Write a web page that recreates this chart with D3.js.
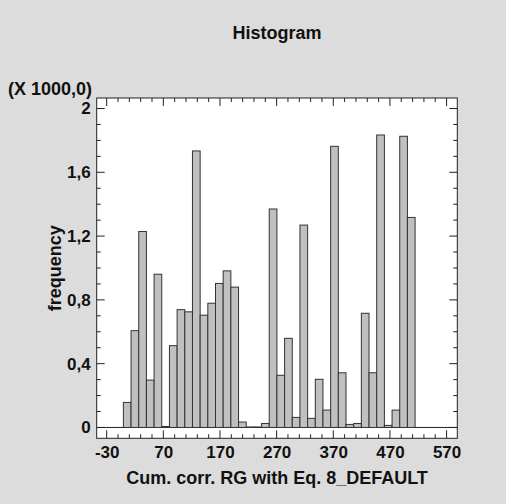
<!DOCTYPE html>
<html>
<head>
<meta charset="utf-8">
<script src="https://cdn.jsdelivr.net/npm/d3@7"></script>
<style>
  html, body { margin: 0; padding: 0; background: #dcdcdc; }
  svg { display: block; font-family: "Liberation Sans", Arial, sans-serif; font-weight: bold; }
</style>
</head>
<body>
<svg id="chart" width="506" height="504"></svg>
<script>
// Bin layout (class limits) and counts
const binStart = -0.5;
const binWidth = 13.55;
const counts = [157, 607, 1229, 297, 961, 6, 513, 739, 725, 1734,
                704, 779, 903, 982, 880, 34, 3, 3, 25, 1370,
                327, 559, 63, 1269, 57, 302, 109, 1763, 343, 19,
                25, 716, 343, 1834, 13, 109, 1826, 1317];
const xTicks = [-30, 70, 170, 270, 370, 470, 570];
const xTickLabels = ["-30", "70", "170", "270", "370", "470", "570"];
const yTicks = [0, 400, 800, 1200, 1600, 2000];
const yTickLabels = ["0", "0,4", "0,8", "1,2", "1,6", "2"];
const titleText = "Histogram";
const xTitle = "Cum. corr. RG with Eq. 8_DEFAULT";
const yTitle = "frequency";
const yScaleNote = "(X 1000,0)";

const bins = counts.map((c, i) => ({x0: binStart + i * binWidth, x1: binStart + (i + 1) * binWidth, n: c}));

const svg = d3.select("#chart");
const L = 96.7, R = 457.3, T = 98, B = 438.3;

const x = d3.scaleLinear().domain([-47.6, 588.9]).range([L, R]);
const y = d3.scaleLinear().domain([-68, 2066]).range([B, T]);

// plot background
svg.append("rect").attr("x", L).attr("y", T).attr("width", R - L).attr("height", B - T)
  .attr("fill", "#ffffff");

// zero line
svg.append("line").attr("x1", L).attr("x2", R).attr("y1", y(0)).attr("y2", y(0))
  .attr("stroke", "#222").attr("stroke-width", 1);

// bars
svg.append("g").selectAll("rect").data(bins).join("rect")
  .attr("x", d => x(d.x0))
  .attr("width", d => x(d.x1) - x(d.x0))
  .attr("y", d => y(d.n))
  .attr("height", d => y(0) - y(d.n))
  .attr("fill", "#c0c0c0")
  .attr("stroke", "#333")
  .attr("stroke-width", 1);

// ticks (inward) on all four sides
const xMinor = d3.range(-30, 571, 20).filter(v => !xTicks.includes(v));
const yMinor = d3.range(0, 2001, 100).filter(v => !yTicks.includes(v));
const tk = svg.append("g").attr("stroke", "#222").attr("stroke-width", 1);
function xt(vals, len) {
  vals.forEach(v => {
    tk.append("line").attr("x1", x(v)).attr("x2", x(v)).attr("y1", B).attr("y2", B - len);
    tk.append("line").attr("x1", x(v)).attr("x2", x(v)).attr("y1", T).attr("y2", T + len);
  });
}
function yt(vals, len) {
  vals.forEach(v => {
    tk.append("line").attr("y1", y(v)).attr("y2", y(v)).attr("x1", L).attr("x2", L + len);
    tk.append("line").attr("y1", y(v)).attr("y2", y(v)).attr("x1", R).attr("x2", R - len);
  });
}
xt(xTicks, 8); xt(xMinor, 4);
yt(yTicks, 8); yt(yMinor, 4);

// frame
svg.append("rect").attr("x", L).attr("y", T).attr("width", R - L).attr("height", B - T)
  .attr("fill", "none").attr("stroke", "#222").attr("stroke-width", 1);

// axis tick labels via d3 axes (lines hidden)
const xAxis = d3.axisBottom(x).tickValues(xTicks).tickSize(0).tickPadding(0)
  .tickFormat((d, i) => xTickLabels[i]);
const gx = svg.append("g").attr("transform", `translate(0,${B + 8})`).call(xAxis);
gx.select(".domain").remove();
gx.selectAll("text").attr("font-size", 17).attr("font-family", "Liberation Sans, Arial, sans-serif")
  .attr("font-weight", "bold").attr("fill", "#111").attr("dy", "0.71em");

const yAxis = d3.axisLeft(y).tickValues(yTicks).tickSize(0).tickPadding(6)
  .tickFormat((d, i) => yTickLabels[i]);
const gy = svg.append("g").attr("transform", `translate(${L},0)`).call(yAxis);
gy.select(".domain").remove();
gy.selectAll("text").attr("font-size", 17).attr("font-family", "Liberation Sans, Arial, sans-serif")
  .attr("font-weight", "bold").attr("fill", "#111");

// titles
svg.append("text").attr("x", (L + R) / 2).attr("y", 39).attr("text-anchor", "middle")
  .attr("font-size", 18).attr("fill", "#111").text(titleText);
svg.append("text").attr("x", (L + R) / 2).attr("y", 484).attr("text-anchor", "middle")
  .attr("font-size", 18).attr("fill", "#111").text(xTitle);
svg.append("text").attr("transform", `translate(61,${(T + B) / 2}) rotate(-90)`)
  .attr("text-anchor", "middle").attr("font-size", 18).attr("fill", "#111").text(yTitle);
svg.append("text").attr("x", 92).attr("y", 95).attr("text-anchor", "end")
  .attr("font-size", 18).attr("fill", "#111").text(yScaleNote);
</script>
</body>
</html>
